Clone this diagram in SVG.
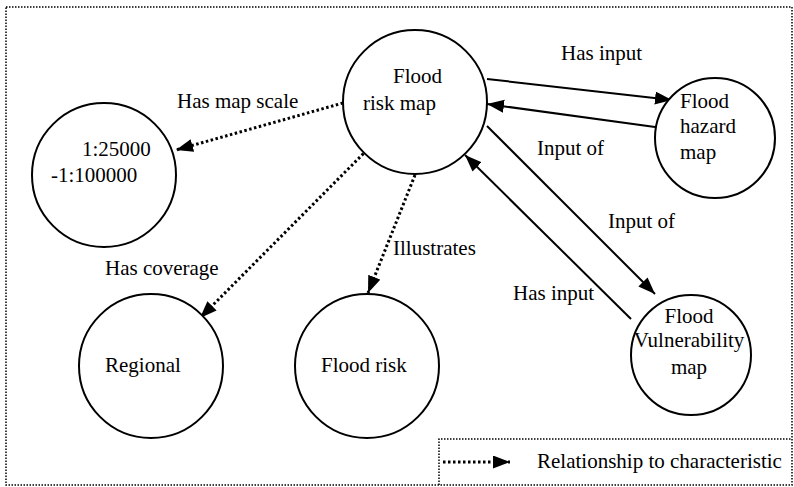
<svg xmlns="http://www.w3.org/2000/svg" width="794" height="487" viewBox="0 0 794 487">
<style>
text{font-family:"Liberation Serif","Times New Roman",serif;font-size:21px;fill:#000}
.node{fill:#fff;stroke:#000;stroke-width:2}
.solid{stroke:#000;stroke-width:2;fill:none}
.dot{stroke:#000;stroke-width:3;stroke-dasharray:2.5 2.5;fill:none}
.frame{fill:none;stroke:#000;stroke-width:1.5;stroke-dasharray:1.5 1.5}
</style>
<defs>
<marker id="ah" markerUnits="userSpaceOnUse" markerWidth="18" markerHeight="14" refX="17" refY="6.5" orient="auto">
<path d="M0,0 L17,6.5 L0,13 z" fill="#000"/>
</marker>
</defs>
<rect class="frame" x="6" y="7" width="786" height="478"/>
<g id="connectors">
<line class="dot" x1="343" y1="103" x2="176" y2="150" marker-end="url(#ah)"/>
<line class="dot" x1="367" y1="150" x2="200" y2="318" marker-end="url(#ah)"/>
<line class="dot" x1="415" y1="175" x2="368" y2="293" marker-end="url(#ah)"/>
<line class="solid" x1="487" y1="79" x2="672" y2="100" marker-end="url(#ah)"/>
<line class="solid" x1="655" y1="127" x2="487" y2="104" marker-end="url(#ah)"/>
<line class="solid" x1="487" y1="126" x2="655" y2="294" marker-end="url(#ah)"/>
<line class="solid" x1="631" y1="319" x2="465" y2="155" marker-end="url(#ah)"/>
<text x="177" y="108">Has map scale</text>
<text x="105" y="275">Has coverage</text>
<text x="393" y="255">Illustrates</text>
<text x="561" y="60">Has input</text>
<text x="537" y="155">Input of</text>
<text x="608" y="228">Input of</text>
<text x="513" y="300">Has input</text>
</g>
<g id="flood-risk-map">
<circle class="node" cx="415" cy="102" r="72"/>
<text x="393" y="83">Flood</text>
<text x="363" y="110">risk map</text>
</g>
<g id="map-scale">
<circle class="node" cx="104" cy="175" r="72"/>
<text x="82" y="156">1:25000</text>
<text x="51" y="182">-1:100000</text>
</g>
<g id="regional">
<circle class="node" cx="151" cy="366" r="72"/>
<text x="105" y="372">Regional</text>
</g>
<g id="flood-risk">
<circle class="node" cx="367" cy="366" r="72"/>
<text x="321" y="372">Flood risk</text>
</g>
<g id="flood-hazard-map">
<circle class="node" cx="715" cy="138" r="60"/>
<text x="680" y="108">Flood</text>
<text x="680" y="133">hazard</text>
<text x="680" y="159">map</text>
</g>
<g id="flood-vulnerability-map">
<circle class="node" cx="691" cy="355" r="60"/>
<text x="689" y="323" text-anchor="middle">Flood</text>
<text x="689" y="347" text-anchor="middle">Vulnerability</text>
<text x="689" y="374" text-anchor="middle">map</text>
</g>
<g id="legend">
<path class="frame" d="M439,485 L439,439 L792,439"/>
<line class="dot" x1="443" y1="462" x2="510" y2="462" marker-end="url(#ah)"/>
<text x="537" y="468">Relationship to characteristic</text>
</g>
</svg>
